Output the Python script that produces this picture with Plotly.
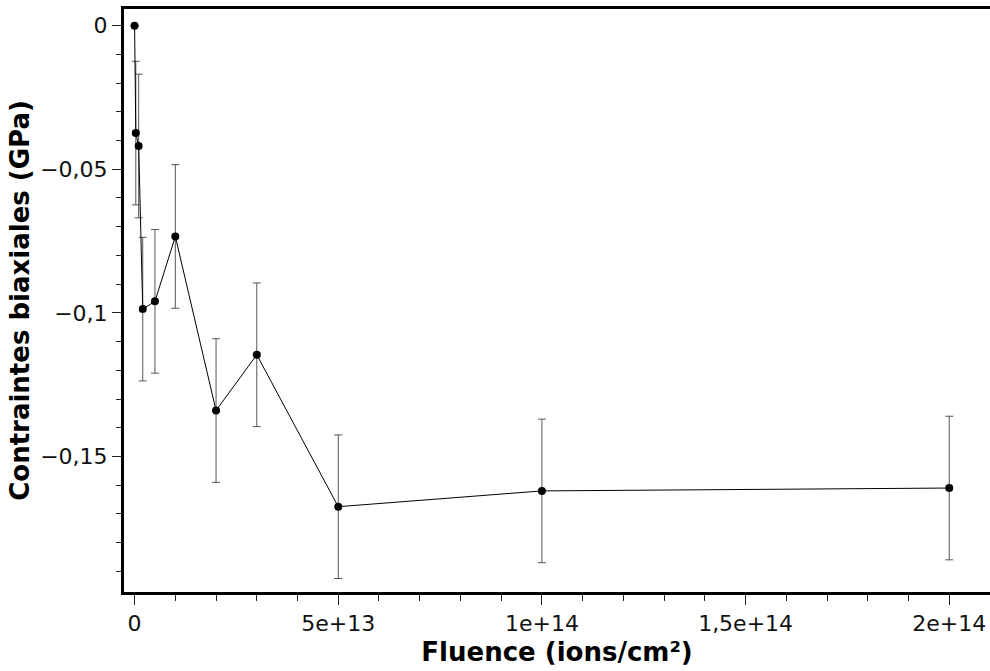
import plotly.graph_objects as go

fluence = [0, 3e11, 1e12, 2e12, 5e12, 1e13, 2e13, 3e13, 5e13, 1e14, 2e14]
stress = [0.0, -0.0374, -0.0419, -0.0987, -0.0960, -0.0734, -0.134, -0.1146, -0.1675, -0.162, -0.161]
stress_err = [0.0, 0.025, 0.025, 0.025, 0.025, 0.025, 0.025, 0.025, 0.025, 0.025, 0.025]

x_tickvals = [0, 5e13, 1e14, 1.5e14, 2e14]
x_ticktext = ["0", "5e+13", "1e+14", "1,5e+14", "2e+14"]
y_tickvals = [0, -0.05, -0.1, -0.15]
y_ticktext = ["0", "\u22120,05", "\u22120,1", "\u22120,15"]

FONT = "DejaVu Sans"

fig = go.Figure()
fig.add_trace(go.Scatter(
    x=fluence, y=stress,
    mode="lines+markers",
    line=dict(color="black", width=1),
    marker=dict(color="black", size=8),
    error_y=dict(type="data", array=stress_err, visible=True,
                 color="#555555", thickness=1, width=4),
    showlegend=False,
))

fig.update_layout(
    width=990, height=671,
    margin=dict(l=124, r=0, t=9, b=79),
    paper_bgcolor="white", plot_bgcolor="white",
    font=dict(family=FONT, size=22, color="#111111"),
)
fig.update_xaxes(
    range=[-2.6e12, 2.1e14],
    tickvals=x_tickvals, ticktext=x_ticktext,
    ticks="outside", ticklen=10, tickwidth=1, tickcolor="#222",
    minor=dict(dtick=1e13, tick0=0, ticks="outside", ticklen=6, tickwidth=1, tickcolor="#222"),
    showline=True, linecolor="black", linewidth=3, mirror=True,
    showgrid=False, zeroline=False,
    tickfont=dict(family=FONT, size=22, color="#111111"),
    title=dict(text="<b>Fluence (ions/cm²)</b>", font=dict(family=FONT, size=26, color="black"), standoff=8),
    automargin=False,
)
fig.update_yaxes(
    range=[-0.1972, 0.0058],
    tickvals=y_tickvals, ticktext=y_ticktext,
    ticks="outside", ticklen=9, tickwidth=1, tickcolor="#222",
    minor=dict(dtick=0.01, tick0=0, ticks="outside", ticklen=5, tickwidth=1, tickcolor="#222"),
    showline=True, linecolor="black", linewidth=3,
    showgrid=False, zeroline=False,
    tickfont=dict(family=FONT, size=22, color="#111111"),
    title=dict(text="<b>Contraintes biaxiales (GPa)</b>", font=dict(family=FONT, size=26, color="black"), standoff=4),
    automargin=False,
)

fig.write_html(
    "out.html",
    config={"displayModeBar": False},
    post_script="document.documentElement.style.overflow='hidden';"
                "document.body.style.margin='0';document.body.style.overflow='hidden';",
)
